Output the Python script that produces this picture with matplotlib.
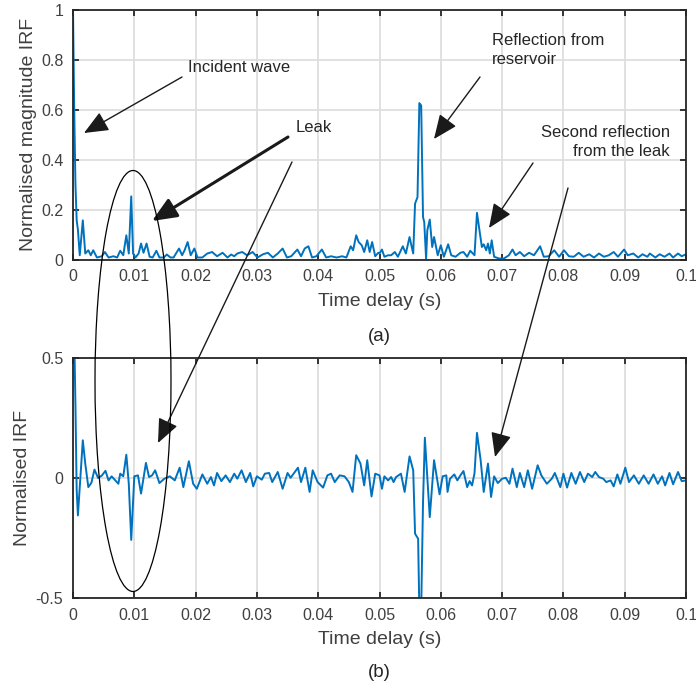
import matplotlib
matplotlib.use("Agg")
import matplotlib.pyplot as plt
import numpy as np
from matplotlib.patches import Ellipse, FancyArrowPatch
from matplotlib.ticker import FormatStrFormatter

plt.rcParams['font.family'] = ['Liberation Sans', 'DejaVu Sans']
plt.rcParams['axes.unicode_minus'] = False

# (a) normalised magnitude of the IRF
t_mag = [0, 0.0002, 0.0004, 0.0006, 0.0008, 0.0011, 0.0016, 0.0020, 0.0025, 0.0029,
         0.0033, 0.0039, 0.0047, 0.0052, 0.0058, 0.0066, 0.0072, 0.0077, 0.0082, 0.0087,
         0.0091, 0.0095, 0.0098, 0.0102, 0.0107, 0.0111, 0.0115, 0.0120, 0.0125, 0.0130,
         0.0136, 0.0141, 0.0148, 0.0153, 0.0159, 0.0164, 0.0173, 0.0178, 0.0182, 0.0187,
         0.0192, 0.0198, 0.0203, 0.0211, 0.0219, 0.0227, 0.0235, 0.0244, 0.0252, 0.0258,
         0.0263, 0.0268, 0.0276, 0.0284, 0.0293, 0.0301, 0.0310, 0.0318, 0.0326, 0.0334,
         0.0342, 0.0349, 0.0356, 0.0366, 0.0372, 0.0378, 0.0384, 0.0390, 0.0397, 0.0406,
         0.0413, 0.0421, 0.0430, 0.0439, 0.0446, 0.0453, 0.0457, 0.0462, 0.0466, 0.0471,
         0.0475, 0.0480, 0.0484, 0.0488, 0.0493, 0.0498, 0.0500, 0.0504, 0.0508, 0.0514,
         0.0519, 0.0525, 0.0530, 0.0538, 0.0543, 0.0549, 0.0555, 0.0558, 0.0562, 0.0565,
         0.0568, 0.0571, 0.0573, 0.0576, 0.0578, 0.0582, 0.0586, 0.0589, 0.0595, 0.0600,
         0.0605, 0.0612, 0.0617, 0.0624, 0.0632, 0.0637, 0.0643, 0.0648, 0.0655, 0.0659,
         0.0663, 0.0667, 0.0670, 0.0674, 0.0677, 0.0680, 0.0683, 0.0687, 0.0695, 0.0703,
         0.0711, 0.0717, 0.0722, 0.0729, 0.0736, 0.0744, 0.0752, 0.0762, 0.0768, 0.0776,
         0.0785, 0.0793, 0.0801, 0.0809, 0.0817, 0.0825, 0.0833, 0.0842, 0.0850, 0.0858,
         0.0866, 0.0874, 0.0882, 0.0889, 0.0899, 0.0905, 0.0914, 0.0922, 0.0929, 0.0937,
         0.0941, 0.0950, 0.0957, 0.0965, 0.0973, 0.0979, 0.0987, 0.0993, 0.1]
irf_mag = [1.0, 0.6, 0.30, 0.157, 0.12, 0.017, 0.157, 0.024, 0.037, 0.017,
           0.037, 0.008, 0.013, 0.03, 0.008, 0.013, 0.008, 0.035, 0.017, 0.097,
           0.024, 0.253, 0.024, 0.008, 0.024, 0.064, 0.027, 0.064, 0.011, 0.008,
           0.035, 0.008, 0.008, 0.02, 0.008, 0.008, 0.044, 0.017, 0.037, 0.07,
           0.017, 0.044, 0.008, 0.008, 0.024, 0.03, 0.013, 0.027, 0.008, 0.02,
           0.013, 0.024, 0.03, 0.017, 0.03, 0.008, 0.021, 0.027, 0.008, 0.024,
           0.044, 0.008, 0.013, 0.04, 0.013, 0.044, 0.053, 0.008, 0.013, 0.04,
           0.008, 0.013, 0.008, 0.013, 0.008, 0.053, 0.037, 0.097, 0.07, 0.057,
           0.03, 0.077, 0.03, 0.07, 0.013, 0.027, 0.024, 0.04, 0.011, 0.017,
           0.017, 0.03, 0.011, 0.053, 0.024, 0.09, 0.024, 0.224, 0.25, 0.627,
           0.617, 0.17, 0.15, 0.004, 0.117, 0.16, 0.05, 0.09, 0.017, 0.057,
           0.011, 0.061, 0.017, 0.011, 0.027, 0.03, 0.011, 0.035, 0.017, 0.187,
           0.117, 0.05, 0.061, 0.037, 0.064, 0.024, 0.077, 0.011, 0.004, 0.004,
           0.017, 0.04, 0.017, 0.03, 0.013, 0.027, 0.017, 0.053, 0.011, 0.013,
           0.037, 0.011, 0.037, 0.013, 0.011, 0.027, 0.011, 0.021, 0.008, 0.024,
           0.011, 0.017, 0.03, 0.011, 0.04, 0.017, 0.024, 0.008, 0.021, 0.011,
           0.024, 0.008, 0.021, 0.011, 0.024, 0.008, 0.024, 0.013, 0.021]

# (b) normalised IRF
t_irf = [0, 0.0002, 0.0004, 0.0006, 0.0008, 0.0012, 0.0016, 0.0020, 0.0025, 0.0030,
         0.0035, 0.0041, 0.0047, 0.0053, 0.0058, 0.0063, 0.0069, 0.0074, 0.0077, 0.0082,
         0.0087, 0.0091, 0.0095, 0.0100, 0.0106, 0.0111, 0.0119, 0.0124, 0.0129, 0.0134,
         0.0141, 0.0149, 0.0158, 0.0166, 0.0174, 0.0180, 0.0189, 0.0196, 0.0202, 0.0211,
         0.0219, 0.0225, 0.0230, 0.0235, 0.0242, 0.0249, 0.0256, 0.0263, 0.0268, 0.0275,
         0.0282, 0.0289, 0.0294, 0.0300, 0.0308, 0.0313, 0.0320, 0.0325, 0.0334, 0.0342,
         0.0350, 0.0355, 0.0367, 0.0372, 0.0379, 0.0386, 0.0391, 0.0399, 0.0408, 0.0415,
         0.0421, 0.0427, 0.0435, 0.0443, 0.0450, 0.0456, 0.0462, 0.0469, 0.0475, 0.0480,
         0.0487, 0.0493, 0.0500, 0.0504, 0.0508, 0.0514, 0.0519, 0.0523, 0.0527, 0.0535,
         0.0541, 0.0549, 0.0555, 0.0558, 0.0563, 0.0565, 0.0568, 0.0571, 0.0574, 0.0578,
         0.0582, 0.0589, 0.0598, 0.0603, 0.0609, 0.0611, 0.0615, 0.0622, 0.0627, 0.0632,
         0.0637, 0.0643, 0.0647, 0.0651, 0.0655, 0.0659, 0.0665, 0.0670, 0.0677, 0.0682,
         0.0687, 0.0693, 0.0700, 0.0706, 0.0712, 0.0717, 0.0724, 0.0729, 0.0736, 0.0742,
         0.0749, 0.0758, 0.0764, 0.0773, 0.0781, 0.0786, 0.0795, 0.0800, 0.0806, 0.0813,
         0.0820, 0.0827, 0.0834, 0.0840, 0.0847, 0.0852, 0.0858, 0.0865, 0.0870, 0.0877,
         0.0882, 0.0888, 0.0893, 0.0901, 0.0907, 0.0915, 0.0923, 0.0931, 0.0939, 0.0947,
         0.0954, 0.0961, 0.0966, 0.0973, 0.0979, 0.0987, 0.0993, 0.1]
irf = [0.9, 0.6, 0.3, -0.05, -0.156, 0.0, 0.157, 0.06, -0.038, -0.02,
       0.035, 0.0, 0.01, 0.03, -0.01, 0.007, -0.01, -0.024, 0.018, 0.007,
       0.097, -0.024, -0.258, 0.007, 0.011, -0.065, 0.063, 0.004, 0.011, 0.032,
       -0.021, -0.003, 0.007, -0.01, 0.043, -0.038, 0.07, -0.024, -0.045, 0.015,
       -0.024, 0.004, -0.031, 0.021, -0.013, 0.011, -0.017, 0.018, -0.003, 0.032,
       -0.017, 0.021, -0.035, 0.007, -0.007, 0.018, 0.021, -0.017, 0.025, -0.045,
       0.021, 0.001, 0.043, -0.017, 0.043, -0.058, 0.032, -0.017, -0.04, 0.011,
       0.018, -0.017, 0.011, 0.007, -0.017, -0.058, 0.095, 0.06, -0.031, 0.074,
       -0.077, 0.018, 0.011, -0.045, 0.007, -0.01, 0.004, -0.017, 0.004, 0.018,
       -0.058, 0.09, 0.032, -0.232, -0.253, -0.55, -0.55, -0.1, 0.168, 0.0,
       -0.163, 0.074, -0.068, 0.007, 0.011, -0.058, -0.003, 0.015, -0.01, 0.011,
       0.029, -0.038, -0.013, -0.031, 0.02, 0.188, 0.074, -0.058, 0.06, -0.079,
       0.007, -0.021, -0.003, 0.001, -0.024, 0.039, -0.038, 0.021, -0.038, 0.032,
       -0.045, 0.053, 0.011, -0.024, -0.003, 0.021, -0.038, 0.018, -0.04, 0.021,
       -0.024, 0.025, -0.017, 0.018, 0.004, 0.025, 0.004, -0.003, -0.017, -0.01,
       -0.035, 0.015, -0.024, 0.043, -0.017, 0.011, -0.024, 0.011, -0.024, 0.015,
       -0.024, 0.007, -0.031, 0.021, -0.026, 0.025, -0.013, -0.01]

xticks = np.arange(0, 0.1001, 0.01)
blue = '#0072BD'
axcol = '#262626'
W, H = 696, 689


def px(x, y):
    # image pixel (origin top-left) -> figure fraction
    return (x / W, 1 - y / H)


fig = plt.figure(figsize=(6.96, 6.89), dpi=100)
ax1 = fig.add_axes([73 / W, 1 - 259.5 / H, 613 / W, 249.5 / H])
ax2 = fig.add_axes([73 / W, 1 - 598 / H, 613 / W, 240 / H])

ax1.plot(t_mag, irf_mag, color=blue, lw=1.4)
ax2.plot(t_irf, irf, color=blue, lw=1.4)

ax1.set_ylim(0, 1)
ax1.set_yticks([0, 0.2, 0.4, 0.6, 0.8, 1])
ax2.set_ylim(-0.5, 0.5)
ax2.set_yticks([-0.5, 0, 0.5])

for ax, lab, tag in [(ax1, 'Normalised magnitude IRF', '(a)'), (ax2, 'Normalised IRF', '(b)')]:
    ax.set_xlim(0, 0.1)
    ax.set_xticks(xticks)
    ax.xaxis.set_major_formatter(FormatStrFormatter('%g'))
    ax.yaxis.set_major_formatter(FormatStrFormatter('%g'))
    ax.grid(True, color='#dedede', lw=1.3)
    ax.set_axisbelow(True)
    for s in ax.spines.values():
        s.set_color(axcol)
        s.set_linewidth(1.3)
    ax.tick_params(direction='in', length=4, width=1.3, color=axcol,
                   top=True, right=True, labelsize=11.5, labelcolor='#404040', pad=7)
    ax.set_xlabel('Time delay (s)', fontsize=14, color='#404040', labelpad=6)
    ax.set_ylabel(lab, fontsize=14, color='#404040', labelpad=3)
    ax.text(0.5, -0.31, tag, transform=ax.transAxes, ha='center', va='center',
            fontsize=13.5, color='#262626')

# annotations drawn on the figure, spanning both panels
txt = dict(fontsize=12, color='#262626', va='center')
fig.text(*px(188, 67), 'Incident wave', ha='left', **txt)
fig.text(*px(296, 128), 'Leak', ha='left', **txt)
fig.text(*px(492, 50), 'Reflection from\nreservoir', ha='left', linespacing=1.4, **txt)
fig.text(*px(670, 142), 'Second reflection\nfrom the leak', ha='right',
         multialignment='right', linespacing=1.4, **txt)

arrows = [((182, 77), (84, 133), 1.0),
          ((288, 137), (152, 221), 2.2),
          ((292, 162), (158, 443), 1.0),
          ((480, 77), (434, 139), 1.0),
          ((533, 163), (489, 228), 1.0),
          ((568, 188), (495, 457), 1.0)]
for a, b, lw in arrows:
    fig.add_artist(FancyArrowPatch(px(*a), px(*b), transform=fig.transFigure,
                                   arrowstyle='-|>,head_length=0.75,head_width=0.32',
                                   mutation_scale=20, color='#1a1a1a', lw=lw,
                                   shrinkA=0, shrinkB=0))

fig.add_artist(Ellipse(px(133, 381), 76 / W, 421 / H, transform=fig.transFigure,
                       fill=False, edgecolor='black', lw=0.9))

fig.savefig('out.png', dpi=100)
